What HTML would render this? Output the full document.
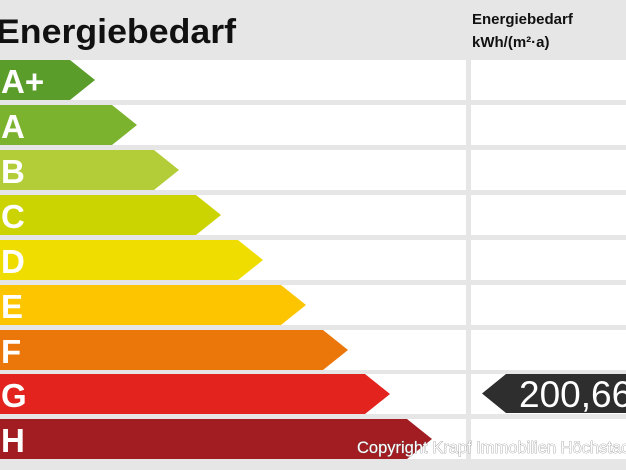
<!DOCTYPE html>
<html><head><meta charset="utf-8"><style>
html,body{margin:0;padding:0;background:#e6e6e6;overflow:hidden;}
svg{display:block;font-family:"Liberation Sans",Arial,sans-serif;}
</style></head><body>
<svg width="626" height="470" viewBox="0 0 626 470" xmlns="http://www.w3.org/2000/svg">
<rect width="626" height="470" fill="#e6e6e6"/>
<text x="-4" y="43" font-size="34" font-weight="bold" fill="#111" textLength="240" lengthAdjust="spacingAndGlyphs">Energiebedarf</text>
<text x="472" y="24" font-size="15" font-weight="bold" fill="#111">Energiebedarf</text>
<text x="472" y="47" font-size="15" font-weight="bold" fill="#111">kWh/(m²·a)</text>
<g fill="#fff">
<rect x="0" y="60" width="466" height="40"/><rect x="471" y="60" width="155" height="40"/>
<rect x="0" y="105" width="466" height="40"/><rect x="471" y="105" width="155" height="40"/>
<rect x="0" y="150" width="466" height="40"/><rect x="471" y="150" width="155" height="40"/>
<rect x="0" y="195" width="466" height="40"/><rect x="471" y="195" width="155" height="40"/>
<rect x="0" y="240" width="466" height="40"/><rect x="471" y="240" width="155" height="40"/>
<rect x="0" y="285" width="466" height="40"/><rect x="471" y="285" width="155" height="40"/>
<rect x="0" y="330" width="466" height="40"/><rect x="471" y="330" width="155" height="40"/>
<rect x="0" y="374" width="466" height="40"/><rect x="471" y="374" width="155" height="40"/>
<rect x="0" y="419" width="466" height="40"/><rect x="471" y="419" width="155" height="40"/>
</g>
<g font-size="33" font-weight="bold" fill="#fff">
<polygon points="0,60 70,60 95,80 70,100 0,100" fill="#5a9d2a"/><text x="1" y="93">A+</text>
<polygon points="0,105 112,105 137,125 112,145 0,145" fill="#7cb32e"/><text x="1" y="138">A</text>
<polygon points="0,150 154,150 179,170 154,190 0,190" fill="#b2cd38"/><text x="1" y="183">B</text>
<polygon points="0,195 196,195 221,215 196,235 0,235" fill="#cbd300"/><text x="1" y="228">C</text>
<polygon points="0,240 238,240 263,260 238,280 0,280" fill="#f0dd00"/><text x="1" y="273">D</text>
<polygon points="0,285 281,285 306,305 281,325 0,325" fill="#fcc500"/><text x="1" y="318">E</text>
<polygon points="0,330 323,330 348,350 323,370 0,370" fill="#eb7609"/><text x="1" y="363">F</text>
<polygon points="0,374 365,374 390,394 365,414 0,414" fill="#e2231e"/><text x="1" y="407">G</text>
<polygon points="0,419 407,419 432,439 407,459 0,459" fill="#a11d22"/><text x="1" y="452">H</text>
</g>
<polygon points="482,393.5 506,374 626,374 626,413 506,413" fill="#2e2e2e"/>
<text x="519" y="407" font-size="37" fill="#fff">200,66</text>
<text x="357" y="453" font-size="16.5" fill="#fff" stroke="#777" stroke-width="0.6" paint-order="stroke">Copyright Krapf Immobilien Höchstadt</text>
</svg>
</body></html>
